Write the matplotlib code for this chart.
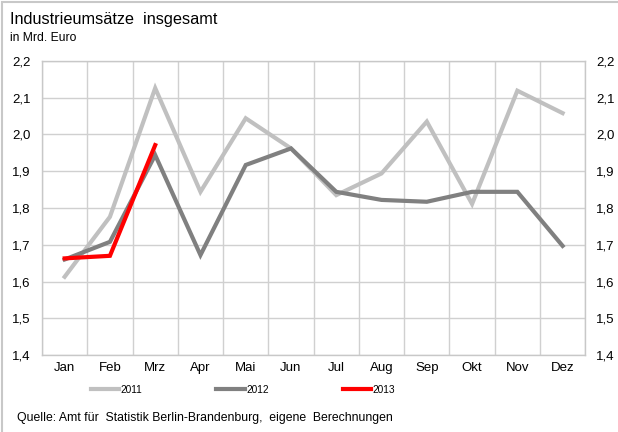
import numpy as np
import matplotlib
matplotlib.use('Agg')
import matplotlib.pyplot as plt
from matplotlib.patches import Rectangle

months = ['Jan', 'Feb', 'Mrz', 'Apr', 'Mai', 'Jun', 'Jul', 'Aug', 'Sep', 'Okt', 'Nov', 'Dez']
y2011 = [1.613, 1.776, 2.126, 1.844, 2.044, 1.962, 1.835, 1.894, 2.035, 1.811, 2.119, 2.058]
y2012 = [1.660, 1.708, 1.944, 1.672, 1.917, 1.962, 1.844, 1.822, 1.817, 1.844, 1.844, 1.697]
y2013 = [1.663, 1.670, 1.971]
yticks = [1.4, 1.5, 1.6, 1.7, 1.8, 1.9, 2.0, 2.1, 2.2]

plt.rcParams['font.family'] = ['Liberation Sans', 'DejaVu Sans']

fig = plt.figure(figsize=(6.18, 4.32), dpi=100)
ax = fig.add_axes([0.068, 0.178, 0.879, 0.681])

x = np.arange(len(months))
l1, = ax.plot(x, y2011, color='#C0C0C0', lw=3.0, label='2011', solid_joinstyle='miter')
l2, = ax.plot(x, y2012, color='#808080', lw=3.0, label='2012', solid_joinstyle='miter')
l3, = ax.plot(x[:len(y2013)], y2013, color='#FF0000', lw=3.0, label='2013', solid_joinstyle='miter')

ax.set_xlim(-0.5, 11.5)
ax.set_ylim(1.4, 2.2)
ax.set_xticks(x)
ax.set_xticklabels(months, fontsize=9.5)
ax.set_xticks(np.arange(-0.5, 12, 1), minor=True)
ax.set_yticks(yticks)
ax.set_yticklabels([f'{v:.1f}'.replace('.', ',') for v in yticks], fontsize=9.5)
ax.tick_params(axis='both', which='both', length=0)
ax.tick_params(axis='x', pad=5)
ax.tick_params(axis='y', pad=8)
ax.tick_params(axis='y', which='both', right=False, labelright=True)
ax.grid(True, axis='y', which='major', color='#D0D0D0', lw=1)
ax.grid(True, axis='x', which='minor', color='#D0D0D0', lw=1)
ax.set_axisbelow(True)
for s in ax.spines.values():
    s.set_color('#C8C8C8')
    s.set_linewidth(1)

fig.legend(handles=[l1, l2, l3], loc='center', bbox_to_anchor=(0.393, 0.098), ncol=3,
           frameon=False, fontsize=7.3, handlelength=2.8, handletextpad=0.15,
           columnspacing=7.3)

fig.text(0.016, 0.955, 'Industrieumsätze  insgesamt', fontsize=11.7, va='center')
fig.text(0.016, 0.913, 'in Mrd. Euro', fontsize=8.7, va='center')
fig.text(0.027, 0.033, 'Quelle: Amt für  Statistik Berlin-Brandenburg,  eigene  Berechnungen', fontsize=8.8, va='center')

fig.patches.append(Rectangle((0.003, -0.01), 1.0, 1.005, transform=fig.transFigure,
                             fill=False, edgecolor='#C8C8C8', lw=1.5))

fig.savefig('out.png', dpi=100)
